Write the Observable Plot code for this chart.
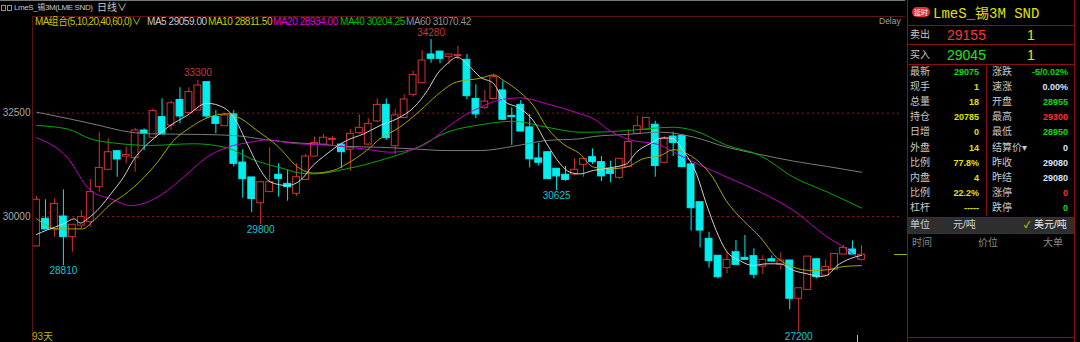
<!DOCTYPE html>
<html><head><meta charset="utf-8">
<script src="https://cdn.jsdelivr.net/npm/d3@7"></script>
<script src="https://cdn.jsdelivr.net/npm/@observablehq/plot@0.6"></script>
<style>
html,body{margin:0;padding:0;background:#000;}
#root{position:relative;width:1080px;height:342px;background:#000;overflow:hidden;font-family:"Liberation Sans","Noto Sans CJK SC",sans-serif;}
.t{position:absolute;white-space:nowrap;line-height:1;}
.l{position:absolute;}
</style></head><body>
<div id="root"></div>
<script>
// ---- candle data (93 trading days) ----
const open  = [29275,29945,29685,30000,29500,29780,29865,30710,31130,31580,31450,31410,32080,31905,32405,32200,32820,32500,32565,33250,32405,32185,32470,31305,30945,30320,30590,31010,30790,30550,30885,31450,31740,31855,31740,31615,32015,31740,32300,32700,31700,32385,32945,33225,33920,33990,33855,33880,33790,32845,32630,32845,33050,32435,32700,32155,31405,31555,31155,31010,31015,31250,31435,31315,31155,30935,31195,32000,32095,32220,31300,31935,31950,31260,30345,29460,29050,28750,29135,29000,29040,28790,28965,28830,28935,28010,28225,28965,28570,28710,29080,29200,28955];
const high  = [30485,30405,30425,30645,29800,30145,30895,32040,31880,31580,31675,32135,32120,32605,32845,32790,33115,33115,33300,33250,32565,32500,32565,31615,30945,30830,31660,31275,31115,31275,31500,31920,31985,31935,31775,32105,32460,32365,32845,32845,32590,32945,33510,34015,34280,33990,33920,34120,33920,33185,33050,33450,33275,32630,32805,32470,31775,31555,31155,31210,31395,31395,31635,31450,31340,31395,32095,32425,32385,32305,31935,32040,31950,31260,30345,29620,29050,29135,29420,29540,29220,29050,29050,29120,28935,28265,29030,28965,28950,29095,29300,29405,29300];
const low   = [29270,29685,29500,28810,29135,29700,29740,30590,31130,30950,31275,31070,31595,31905,31985,32080,32240,32500,32565,32365,32000,32185,31195,30445,30090,29800,30590,30470,30370,30485,30885,31450,31740,31720,31155,31095,31985,31720,32280,31840,31500,32385,32885,33210,33710,33695,33670,33790,32820,32365,32590,32830,32325,31720,32055,31175,31220,30905,30625,30855,30990,30950,31260,30845,30815,30895,31195,31975,32095,30950,31300,31450,31195,29645,29240,28750,28490,28615,28830,28935,28490,28590,28910,28710,27740,27200,28225,28490,28570,28710,29080,29080,28950];
const close = [30405,29685,30305,29500,29800,29985,30590,31175,31555,31380,31490,32080,32000,32550,31985,32740,32420,33010,33170,32420,32240,32445,31275,30905,30425,30830,30830,30910,30710,30950,31450,31780,31905,31880,31555,32000,32145,32240,32700,31895,32445,32830,33425,33775,33815,33815,33920,33905,32910,32470,32780,33370,32340,32405,32055,31385,31300,30905,30970,30885,31130,31395,31315,30970,31030,31395,31800,32185,32385,31220,31880,31780,31195,30200,29660,28920,28530,28950,28830,28950,28590,28950,28910,28935,28010,28265,29030,28530,28775,29095,29240,29080,29075];

// ---- moving averages (position in candle index, value) ----
const ma5Pos = [1,2.2,4.0,5.2,5.9,6.7,8.1,9.3,10.7,11.9,13.0,14.5,15.9,17.8,20.0,21.9,23.0,24.5,26.0,27.1,29.0,30.4,31.9,33.0,35.6,37.5,39.3,41.2,43.1,44.6,45.7,46.8,47.9,49.0,50.5,52.0,53.1,55.0,56.4,57.9,59.4,60.5,61.6,63.1,64.9,66.8,67.9,69.4,70.9,72.0,73.1,74.6,75.7,76.8,77.9,79.4,80.9,82.4,83.9,85.4,86.9,88.4,89.1,90.3,91.4,93];
const ma5Val = [29565,29675,29820,29945,29840,29945,30225,30550,30950,31395,31675,31960,32200,32445,32740,32630,32405,31760,31115,30830,30750,30870,31250,31450,31840,32000,32200,32365,32645,33050,33450,33695,33855,33695,33370,33210,32805,32605,32320,31760,31275,31070,31030,31115,31175,31275,31555,31760,31905,31880,31595,31030,30305,29660,29175,28935,28815,28855,28855,28695,28615,28550,28570,28815,28950,29059];
const ma10Pos = [1,3.3,6.1,7.4,9.3,10.7,13.0,14.5,16.3,18.2,20.0,22.3,23.8,25.6,27.8,30.4,31.9,34.1,35.6,37.8,39.3,41.5,43.8,45.6,47.8,50.5,52.0,53.1,54.9,56.4,57.9,59.7,61.6,63.1,64.9,66.8,68.6,70.6,72.0,73.2,74.9,76.4,77.9,79.8,81.7,83.5,85.4,87.3,89.2,91.0,93];
const ma10Val = [29945,29700,29700,29905,30305,30510,30950,31315,31840,32160,32385,32485,32365,32080,31720,31155,31050,31115,31275,31595,31880,32160,32565,32925,33250,33345,33425,33290,33010,32685,32160,31760,31515,31195,31155,31195,31395,31475,31615,31555,31315,30950,30385,29905,29500,29015,28775,28695,28710,28790,28811];
const ma20Pos = [1,4.4,7.0,9.3,11.5,13.0,15.6,17.8,20.0,22.3,24.9,26.7,29.3,33.8,37.5,40.5,43.1,45.0,46.8,48.7,50.5,52.4,55.0,57.9,61.6,63.1,64.9,66.8,70.6,72.4,74.3,78.0,81.7,85.4,89.2,91.0,93];
const ma20Val = [31905,31435,30630,30425,30265,30320,30630,31030,31435,31675,31800,31855,31775,31720,31635,31555,31635,31840,32160,32445,32645,32805,32870,32725,32485,32365,32080,31880,31720,31515,31315,30950,30590,30145,29500,29260,28934];
const ma40Pos = [1,4.4,7.0,10.4,13.7,18.5,22.3,24.9,28.6,30.4,31.9,35.6,39.3,43.1,46.8,50.5,54.2,57.9,61.6,63.1,66.8,72.0,74.3,78.0,81.7,85.4,89.2,93];
const ma40Val = [32200,32120,31880,31760,31720,31760,31660,31395,31155,31050,31030,31155,31355,31635,32040,32220,32305,32160,32040,32040,32080,32160,32080,31720,31475,30950,30590,30204];
const ma60Pos = [1,8.1,10.4,13.7,19.3,23.0,26.7,30.4,31.9,35.6,39.3,43.1,46.8,50.5,54.2,57.9,61.6,63.1,66.8,70.6,74.3,78.0,81.7,85.4,89.2,93];
const ma60Val = [32525,32200,32080,32000,31985,31960,31855,31775,31760,31695,31675,31635,31595,31595,31700,31840,31880,31935,31985,32040,31920,31675,31500,31340,31210,31070];

const gridLevels = [30000, 32500];
const highMarkDay = [19, 45];
const highMarkVal = [33300, 34280];
const lowMarkDay = [4, 26, 59, 86];
const lowMarkVal = [28810, 29800, 30625, 27200];

const legendText = ["MA组合(5,10,20,40,60,0)∨","MA5 29059.00","MA10 28811.50","MA20 28934.00","MA40 30204.25","MA60 31070.42"];

// side panel
const leftLabels  = ["最新","现手","总量","持仓","日增","外盘","比例","内盘","比例","杠杆"];
const leftValues  = ["29075","1","18","20785","0","14","77.8%","4","22.2%","-----"];
const rightLabels = ["涨跌","速涨","开盘","最高","最低","结算价▾","昨收","昨结","涨停","跌停"];
const rightValues = ["-5/0.02%","0.00%","28955","29300","28950","0","29080","29080","0","0"];
const rightKinds  = ["g","w","g","r","g","w","w","w","r","g"];

// ---- styles ----
const RED = "#d23434", CYAN = "#00eeee";
const root = document.getElementById("root");

const candles = open.map((o,k)=>({i:k+1, o, h:high[k], l:low[k], c:close[k]}));
const zip = (p,v)=>p.map((x,k)=>({x, v:v[k]}));
const up = d => d.c >= d.o;

const svg = Plot.plot({
  width: 905, height: 342,
  marginLeft: 32, marginRight: 5, marginTop: 17, marginBottom: 0,
  x: {domain:[1,93], range:[36,861], axis:null},
  y: {domain:[30000,32500], range:[216,112.67], axis:null},
  style: {background:"transparent", fontFamily:"Liberation Sans, sans-serif", fontSize:"10px", overflow:"visible"},
  marks: [
    Plot.ruleY(gridLevels, {stroke:"#8a1a1a", strokeDasharray:"2,3"}),
    Plot.axisY({ticks: gridLevels, anchor:"left", tickSize:0, tickPadding:2, tickFormat:d3.format("d"), fill:"#a8a8a8", fontSize:10, label:null}),
    Plot.ruleX(candles, {x:"i", y1:"l", y2:"h", stroke:d=>up(d)?RED:CYAN, strokeWidth:1}),
    Plot.rect(candles, {x1:d=>d.i-0.38, x2:d=>d.i+0.38, y1:"o", y2:"c", fill:d=>up(d)?"#000000":CYAN, stroke:d=>up(d)?RED:CYAN, strokeWidth:1}),
    Plot.line(zip(ma60Pos,ma60Val), {x:"x", y:"v", stroke:"#7c7c7c", curve:"monotone-x", strokeWidth:1}),
    Plot.line(zip(ma40Pos,ma40Val), {x:"x", y:"v", stroke:"#00aa00", curve:"monotone-x", strokeWidth:1}),
    Plot.line(zip(ma20Pos,ma20Val), {x:"x", y:"v", stroke:"#c000c0", curve:"monotone-x", strokeWidth:1}),
    Plot.line(zip(ma10Pos,ma10Val), {x:"x", y:"v", stroke:"#a6a600", curve:"monotone-x", strokeWidth:1}),
    Plot.line(zip(ma5Pos,ma5Val), {x:"x", y:"v", stroke:"#d0d0d0", curve:"monotone-x", strokeWidth:1}),
    Plot.text(zip(highMarkDay,highMarkVal), {x:"x", y:"v", text:d=>String(d.v), fill:"#c83838", dy:-7, fontSize:10}),
    Plot.text(zip(lowMarkDay,lowMarkVal), {x:"x", y:"v", text:d=>String(d.v), fill:"#10c8d0", dy:5, fontSize:10})
  ]
});
svg.style.position = "absolute"; svg.style.left = "0px"; svg.style.top = "0px";
root.appendChild(svg);

function T(x, y, s, o={}) {
  const e = document.createElement("div");
  e.className = "t"; e.textContent = s;
  const tx = o.anchor==="end" ? "-100%" : (o.anchor==="middle" ? "-50%" : "0");
  Object.assign(e.style, {left:x+"px", top:y+"px", fontSize:(o.size||10)+"px", color:o.color||"#c0c0c0",
    fontWeight:o.weight||"normal", transform:`translate(${tx},-50%)`, letterSpacing:(o.ls||0)+"px"});
  if (o.font) e.style.fontFamily = o.font;
  root.appendChild(e); return e;
}
function L(x, y, w, h, c) {
  const e = document.createElement("div"); e.className = "l";
  Object.assign(e.style, {left:x+"px", top:y+"px", width:w+"px", height:h+"px", background:c});
  root.appendChild(e); return e;
}

// chart frame
L(0,0,905,1,"#7a7a7a");
L(32,16,873,1,"#5a1414");
L(32,17,1,325,"#5a1414");
// header
L(1,5,3,4,"#000").style.border="1px solid #909090";
L(7,5,3,4,"#000").style.border="1px solid #909090";
T(14,8,"LmeS_锡3M(LME SND)",{size:8,color:"#c8c8c8",ls:-0.4});
T(97,8,"日线∨",{size:10,color:"#c8c8c8"});
// legend
const legendX = [35,147,208,273,340,406];
const legendC = ["#c8c800","#c8c8c8","#c8c800","#e000e0","#00c000","#909090"];
legendText.forEach((s,k)=>T(legendX[k],22,s,{size:10,color:legendC[k],ls:k===0?-0.7:-0.45}));
T(879,21,"Delay",{size:8.5,color:"#a0a0a0"});
T(32,337,"93天",{size:10,color:"#b4b400"});
L(894,254,13,1,"#a8a800");
L(857,335,1,7,"#c0c0c0");

// ---- side panel ----
const BR = "#8a1010";
L(907,0,1,342,BR); L(1074,0,1,342,BR);
L(907,25,168,1,BR); L(907,44,168,1,BR); L(907,64,168,1,BR);
L(986,66,1,150,BR);
L(907,217,168,1,BR);
L(908,218,166,15,"#2e2e2e");
L(907,233,168,1,BR);
L(907,337,168,1,BR);
const badge = L(912,7,18,10,"#e03030"); badge.style.borderRadius="5px";
T(921,12,"延时",{size:7,color:"#ffffff",anchor:"middle"});
T(933,14,"LmeS_锡3M SND",{size:14,color:"#e2e200",font:"Liberation Mono, Noto Sans CJK SC, monospace"});
T(910,35,"卖出",{size:10,color:"#c8c8c8"});
T(947,35,"29155",{size:14,color:"#ff3434"});
T(1027,35,"1",{size:14,color:"#e2e200"});
T(910,55,"买入",{size:10,color:"#c8c8c8"});
T(947,55,"29045",{size:14,color:"#20e020"});
T(1027,55,"1",{size:14,color:"#e2e200"});
const rowY = [72,87,102,117,132,148,163,178,193,208];
const kindColor = {g:"#10d810", w:"#d8e4ff", r:"#ff3030"};
leftLabels.forEach((s,k)=>{
  T(910,rowY[k],s,{size:10,color:"#c8c8c8"});
  T(979,rowY[k],leftValues[k],{size:9,color:k===0?"#10d810":"#e2e200",anchor:"end",weight:"bold"});
  T(992,rowY[k],rightLabels[k],{size:10,color:"#c8c8c8"});
  T(1068,rowY[k],rightValues[k],{size:9,color:kindColor[rightKinds[k]],anchor:"end",weight:"bold"});
});
T(910,225,"单位",{size:10,color:"#d0d0d0"});
T(953,225,"元/吨",{size:10,color:"#d0d0d0"});
T(1024,225,"✓",{size:9,color:"#e2e200"});
T(1034,225,"美元/吨",{size:10,color:"#e8e8e8"});
T(912,243,"时间",{size:10,color:"#8a8a8a"});
T(978,243,"价位",{size:10,color:"#8a8a8a"});
T(1043,243,"大单",{size:10,color:"#8a8a8a"});
</script>
</body></html>
